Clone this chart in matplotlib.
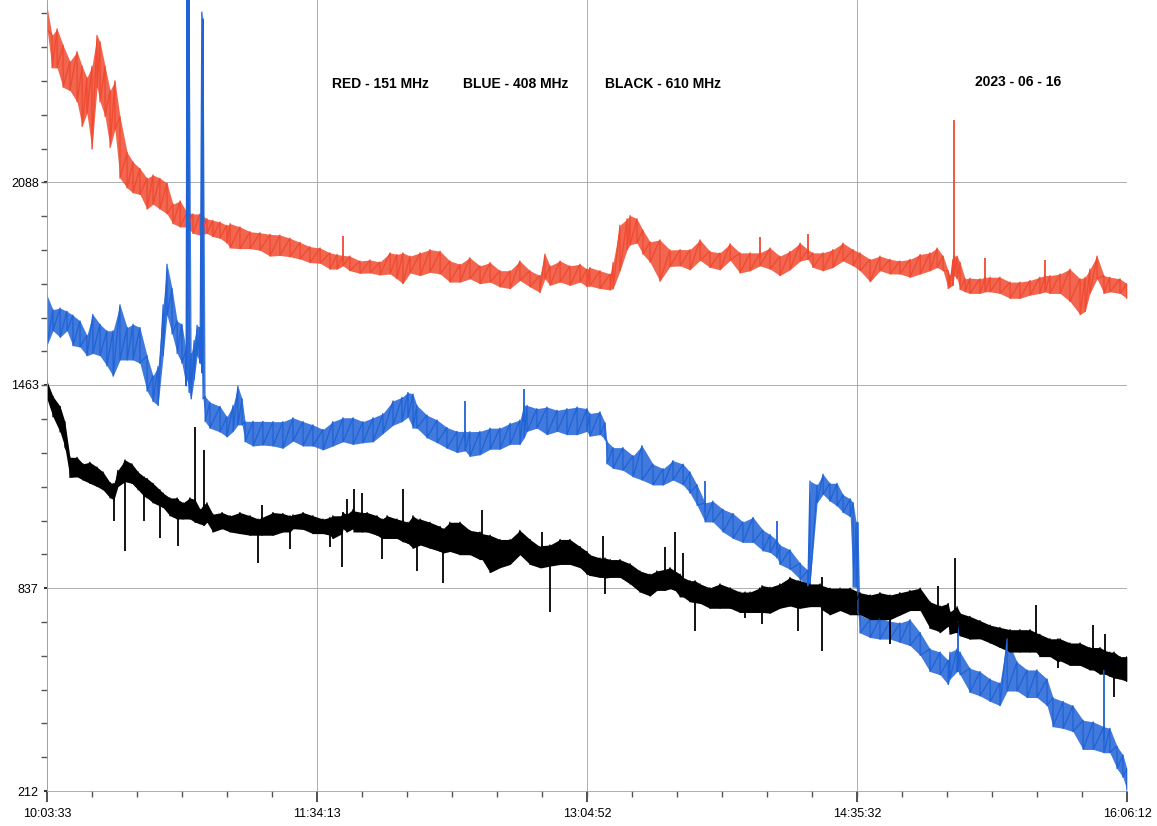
import matplotlib
matplotlib.use('Agg')
from matplotlib import pyplot as plt
from matplotlib.ticker import FixedLocator, AutoMinorLocator
import numpy as np

plt.rcParams['font.family'] = ['Liberation Sans', 'DejaVu Sans']

# axis labels
time_labels = ['10:03:33', '11:34:13', '13:04:52', '14:35:32', '16:06:12']
level_ticks = [212, 837, 1463, 2088]
level_top = 2649

# red - 151 MHz: minutes after 10:03:33, upper and lower edge of the noisy trace
red_t = [0, 1.7, 3.4, 5.4, 7.7, 10.1, 11.8, 13.4, 15.1, 16.8, 17.8, 19.5, 21.2, 22.8, 24.5,
         26.9, 28.9, 31.2, 33.6, 35.6, 37.9, 40.3, 42.3, 44.7, 47.0, 49.0, 51.4, 53.7, 55.7,
         58.1, 60.4, 61.5, 64.8, 68.2, 71.5, 74.9, 78.2, 81.6, 85.0, 88.3, 91.7, 95.0, 97.4,
         99.4, 101.7, 105.1, 108.5, 111.8, 115.2, 117.5, 119.5, 121.9, 125.3, 128.6, 132.0,
         135.3, 138.7, 142.0, 145.4, 148.8, 152.1, 155.5, 158.8, 162.2, 165.5, 167.2, 168.9,
         172.3, 175.6, 179.0, 181.3, 182.3, 185.7, 189.1, 190.1, 192.4, 194.8, 195.8, 198.1,
         200.1, 202.5, 205.8, 209.2, 212.6, 215.9, 219.3, 222.6, 226.0, 229.4, 232.7, 236.1,
         239.4, 242.8, 246.1, 249.5, 252.9, 255.5, 257.2, 260.6, 263.9, 267.3, 270.7, 273.0,
         276.4, 279.7, 283.1, 286.4, 289.8, 293.2, 296.5, 298.9, 300.9, 302.6, 303.2, 304.2,
         304.6, 305.6, 306.6, 308.3, 309.9, 313.3, 315.0, 316.7, 320.0, 323.4, 326.7, 330.1,
         333.4, 335.1, 336.8, 340.2, 343.5, 346.9, 348.6, 350.2, 352.6, 354.9, 356.9, 360.3,
         362.6]
red_hi = [2630, 2540, 2560, 2510, 2460, 2490, 2445, 2410, 2445, 2540, 2520, 2445, 2370, 2400,
          2290, 2180, 2150, 2130, 2100, 2110, 2100, 2085, 2020, 2030, 1995, 1990, 1990, 1975,
          1970, 1965, 1955, 1960, 1950, 1935, 1932, 1927, 1925, 1915, 1902, 1889, 1885, 1870,
          1865, 1862, 1860, 1845, 1848, 1842, 1870, 1865, 1870, 1860, 1870, 1880, 1875, 1845,
          1835, 1855, 1830, 1840, 1815, 1815, 1845, 1815, 1800, 1866, 1830, 1845, 1830, 1835,
          1820, 1825, 1815, 1805, 1840, 1955, 1975, 1985, 1975, 1940, 1904, 1910, 1879, 1880,
          1880, 1910, 1875, 1870, 1898, 1870, 1870, 1870, 1885, 1860, 1875, 1900, 1880, 1870,
          1870, 1880, 1900, 1880, 1870, 1850, 1860, 1850, 1845, 1850, 1865, 1870, 1885, 1860,
          1815, 1800, 1850, 1860, 1860, 1840, 1790, 1792, 1790, 1795, 1795, 1795, 1780, 1780,
          1785, 1795, 1800, 1800, 1805, 1820, 1790, 1795, 1820, 1860, 1800, 1795, 1790, 1775]
red_lo = [2560, 2440, 2440, 2380, 2370, 2335, 2260, 2300, 2190, 2380, 2335, 2290, 2195, 2250,
          2100, 2070, 2055, 2050, 2005, 2020, 2005, 1990, 1960, 1950, 1950, 1930, 1925, 1930,
          1920, 1915, 1900, 1885, 1883, 1883, 1878, 1860, 1862, 1858, 1851, 1840, 1838, 1820,
          1820, 1830, 1815, 1807, 1808, 1802, 1805, 1790, 1775, 1808, 1800, 1810, 1805, 1780,
          1780, 1790, 1775, 1780, 1765, 1760, 1785, 1765, 1748, 1790, 1770, 1780, 1770, 1780,
          1766, 1768, 1760, 1756, 1760, 1815, 1880, 1895, 1900, 1866, 1841, 1783, 1828, 1830,
          1818, 1847, 1825, 1818, 1847, 1808, 1815, 1830, 1820, 1800, 1818, 1845, 1850, 1825,
          1815, 1825, 1845, 1830, 1815, 1781, 1815, 1805, 1805, 1795, 1805, 1815, 1825, 1815,
          1760, 1765, 1770, 1800, 1790, 1757, 1750, 1745, 1745, 1750, 1750, 1745, 1730, 1730,
          1740, 1745, 1750, 1745, 1745, 1720, 1680, 1690, 1745, 1790, 1745, 1750, 1745, 1730]
red_spike_t = [99.4, 239.4, 255.5, 304.6, 315.0, 335.1]
red_spike_v = [1923, 1920, 1928, 2279, 1854, 1847]

# blue - 408 MHz
blue_t = [0, 2.0, 4.4, 6.7, 8.7, 11.1, 13.4, 15.4, 17.8, 20.1, 22.2, 24.5, 26.9, 28.9, 31.2,
          33.6, 35.6, 37.3, 39.0, 40.3, 42.0, 43.7, 45.3, 46.7, 47.0, 47.7, 48.4, 49.4, 50.4,
          51.4, 52.0, 52.4, 53.1, 54.7, 58.1, 60.4, 62.5, 64.1, 65.5, 66.5, 69.2, 72.5, 75.9,
          79.2, 82.6, 86.0, 89.3, 92.7, 96.0, 99.4, 102.8, 106.1, 109.5, 112.8, 116.2, 119.2,
          121.2, 122.9, 124.2, 127.6, 131.0, 134.3, 137.7, 140.4, 142.0, 145.4, 148.8, 152.1,
          155.5, 158.8, 160.2, 161.2, 164.5, 167.9, 171.3, 174.6, 178.0, 181.3, 182.3, 185.7,
          187.4, 188.0, 190.1, 193.4, 196.8, 199.8, 203.5, 206.9, 210.2, 213.6, 215.9, 218.3,
          221.0, 223.6, 227.0, 230.4, 233.7, 237.1, 240.4, 242.8, 245.1, 246.1, 249.5, 252.9,
          255.5, 256.2, 258.6, 260.6, 262.9, 265.3, 267.3, 269.7, 270.7, 271.7, 272.3, 273.0,
          276.4, 279.7, 283.1, 286.4, 289.8, 293.2, 296.5, 299.9, 302.6, 303.2, 305.6, 305.9,
          306.6, 309.9, 313.3, 316.7, 320.0, 322.4, 325.7, 329.1, 332.4, 335.8, 337.8, 341.2,
          344.5, 347.9, 351.3, 354.9, 356.9, 359.3, 361.3, 362.6]
blue_hi = [1740, 1695, 1700, 1690, 1678, 1660, 1616, 1680, 1650, 1630, 1630, 1710, 1640, 1650,
           1640, 1553, 1491, 1520, 1710, 1835, 1760, 1660, 1650, 1570, 2700, 2700, 1560, 1600,
           1647, 1640, 2612, 2590, 1428, 1410, 1397, 1365, 1400, 1459, 1420, 1351, 1351, 1351,
           1350, 1350, 1362, 1350, 1340, 1326, 1350, 1362, 1362, 1350, 1362, 1375, 1414, 1425,
           1440, 1435, 1400, 1370, 1355, 1332, 1320, 1320, 1319, 1320, 1330, 1330, 1345, 1355,
           1400, 1400, 1390, 1395, 1385, 1390, 1395, 1390, 1375, 1380, 1346, 1290, 1270, 1270,
           1245, 1276, 1219, 1205, 1230, 1219, 1195, 1155, 1100, 1105, 1080, 1067, 1041, 1055,
           1016, 1002, 985, 970, 955, 914, 892, 1167, 1155, 1188, 1160, 1160, 1125, 1112, 1100,
           1040, 1040, 754, 740, 745, 735, 730, 740, 700, 650, 640, 615, 640, 650, 645, 640, 590,
           580, 557, 545, 681, 610, 585, 585, 557, 500, 488, 475, 430, 425, 410, 405, 350, 323,
           281]
blue_lo = [1585, 1630, 1610, 1630, 1584, 1580, 1553, 1560, 1553, 1522, 1490, 1540, 1540, 1540,
           1530, 1444, 1412, 1400, 1553, 1678, 1620, 1560, 1530, 1460, 1480, 1440, 1420, 1480,
           1553, 1530, 1500, 1420, 1350, 1330, 1318, 1303, 1320, 1340, 1340, 1288, 1275, 1278,
           1275, 1268, 1290, 1275, 1275, 1263, 1275, 1288, 1280, 1285, 1288, 1313, 1339, 1350,
           1364, 1330, 1330, 1300, 1285, 1268, 1255, 1260, 1243, 1248, 1265, 1265, 1280, 1280,
           1300, 1320, 1330, 1310, 1320, 1310, 1310, 1320, 1305, 1310, 1295, 1220, 1206, 1200,
           1180, 1170, 1155, 1155, 1170, 1155, 1130, 1092, 1041, 1041, 1010, 990, 978, 978, 952,
           947, 930, 910, 895, 864, 844, 850, 1100, 1126, 1105, 1090, 1070, 1057, 840, 840, 760,
           699, 685, 680, 680, 670, 660, 630, 580, 570, 540, 557, 580, 580, 570, 516, 505, 488,
           475, 520, 520, 500, 500, 475, 410, 405, 395, 340, 340, 330, 330, 281, 254, 215]
blue_spike_t = [140.4, 160.2, 221.0, 245.1, 305.9, 354.9]
blue_spike_v = [1415, 1450, 1168, 1043, 737, 585]

# black - 610 MHz
black_t = [0, 2.0, 4.4, 6.0, 7.7, 10.1, 12.1, 14.4, 16.8, 18.8, 21.2, 22.5, 23.8, 26.2, 28.5,
           30.6, 32.6, 33.6, 35.6, 37.9, 39.0, 41.3, 43.7, 44.0, 45.7, 48.0, 49.7, 51.4, 52.7,
           53.7, 55.7, 58.8, 61.5, 64.8, 68.2, 70.9, 72.2, 75.9, 79.2, 81.6, 82.6, 86.0, 89.3,
           92.7, 95.0, 96.0, 99.1, 99.4, 100.7, 102.8, 103.1, 105.8, 107.5, 110.8, 112.5, 114.2,
           117.5, 119.5, 121.2, 122.9, 124.2, 125.3, 128.6, 132.0, 133.0, 135.3, 138.7, 142.0,
           145.4, 146.1, 148.8, 152.1, 155.5, 158.8, 162.2, 165.5, 166.2, 168.9, 172.3, 175.6,
           179.0, 181.3, 182.3, 185.7, 186.7, 187.4, 189.1, 192.4, 195.8, 199.1, 202.5, 204.8,
           207.5, 209.2, 210.9, 212.6, 213.6, 215.9, 217.6, 219.3, 222.6, 226.0, 229.4, 232.7,
           234.4, 236.1, 239.4, 240.1, 242.8, 246.1, 249.5, 252.2, 252.9, 256.2, 259.6, 260.3,
           262.9, 266.3, 269.7, 273.0, 276.4, 279.7, 283.1, 286.4, 289.8, 293.2, 296.5, 299.2,
           299.9, 302.6, 303.2, 304.9, 305.6, 306.6, 309.9, 313.3, 316.7, 320.0, 323.4, 326.7,
           330.1, 332.1, 333.4, 336.8, 339.5, 340.2, 343.5, 346.9, 350.2, 351.3, 353.6, 355.3,
           356.9, 358.3, 360.3, 362.6]
black_hi = [1475, 1428, 1397, 1350, 1240, 1240, 1220, 1225, 1210, 1195, 1162, 1160, 1200, 1232,
            1220, 1195, 1180, 1175, 1160, 1140, 1130, 1115, 1115, 1110, 1100, 1115, 1110, 1080,
            1095, 1100, 1065, 1070, 1060, 1070, 1060, 1050, 1055, 1070, 1067, 1060, 1063, 1070,
            1060, 1050, 1055, 1060, 1060, 1070, 1065, 1080, 1075, 1070, 1070, 1060, 1050, 1060,
            1050, 1045, 1040, 1060, 1050, 1050, 1040, 1027, 1020, 1040, 1040, 1015, 1010, 1005,
            1000, 987, 987, 1015, 987, 965, 968, 970, 987, 987, 965, 950, 940, 930, 930, 930,
            925, 925, 912, 890, 880, 890, 895, 900, 890, 880, 870, 860, 860, 850, 838, 850, 838,
            825, 825, 825, 838, 845, 840, 850, 870, 860, 860, 850, 850, 845, 837, 837, 837, 823,
            816, 823, 816, 823, 830, 837, 795, 785, 782, 790, 764, 775, 780, 760, 750, 737, 723,
            716, 709, 709, 709, 700, 695, 681, 681, 681, 668, 668, 654, 654, 654, 645, 640, 640,
            626, 626]
black_lo = [1420, 1365, 1318, 1272, 1178, 1180, 1170, 1160, 1150, 1140, 1115, 1110, 1150, 1165,
            1160, 1140, 1120, 1115, 1100, 1090, 1085, 1060, 1050, 1050, 1050, 1050, 1040, 1035,
            1030, 1040, 1010, 1020, 1010, 1005, 1000, 1000, 1000, 1000, 1010, 1010, 1020, 1018,
            1005, 1005, 1000, 990, 1005, 1020, 1010, 1020, 1010, 1010, 1010, 1000, 990, 990, 990,
            980, 975, 960, 965, 970, 960, 950, 945, 950, 940, 940, 925, 925, 885, 900, 910, 940,
            910, 900, 900, 905, 910, 910, 900, 880, 876, 870, 870, 868, 870, 870, 850, 825, 813,
            830, 830, 835, 830, 810, 810, 795, 792, 790, 775, 775, 775, 762, 762, 762, 762, 762,
            760, 775, 782, 775, 775, 780, 780, 770, 755, 768, 755, 755, 740, 740, 740, 754, 768,
            768, 713, 705, 700, 720, 695, 700, 700, 690, 680, 681, 668, 654, 640, 640, 640, 640,
            626, 626, 610, 613, 599, 599, 585, 585, 572, 572, 565, 560, 557, 550]
black_spike_t = [22.5, 26.2, 32.6, 37.9, 44.0, 49.7, 52.7, 70.9, 72.2, 81.6, 95.0, 99.1, 100.7,
                 103.1, 105.8, 112.5, 119.5, 124.2, 133.0, 146.1, 166.2, 168.9, 186.7, 187.4,
                 207.5, 210.9, 213.6, 217.6, 234.4, 240.1, 252.2, 260.3, 260.3, 283.1, 299.2,
                 304.9, 332.1, 339.5, 351.3, 355.3, 358.3]
black_spike_v = [1045, 951, 1045, 990, 967, 1334, 1264, 914, 1092, 959, 965, 902, 1111, 1142,
                 1130, 927, 1142, 891, 853, 1079, 1010, 764, 997, 819, 965, 1009, 945, 705, 746,
                 727, 706, 870, 644, 665, 845, 930, 785, 592, 723, 695, 502]

series = [
    (red_t, red_hi, red_lo, red_spike_t, red_spike_v, '#f04a30', 0.85),
    (blue_t, blue_hi, blue_lo, blue_spike_t, blue_spike_v, '#1f63d6', 0.85),
    (black_t, black_hi, black_lo, black_spike_t, black_spike_v, '#000000', 1.0),
]
headers = ['RED - 151 MHz', 'BLUE - 408 MHz', 'BLACK - 610 MHz']
date_text = '2023 - 06 - 16'


def to_minutes(s):
    h, m, sec = [int(p) for p in s.split(':')]
    return h * 60 + m + sec / 60.0


def main():
    t0 = to_minutes(time_labels[0])
    tick_pos = [to_minutes(s) - t0 for s in time_labels]

    fig = plt.figure(figsize=(11.57, 8.26), dpi=100)
    ax = fig.add_axes([47 / 1157, 35 / 826, 1080 / 1157, 791 / 826])

    for t, hi, lo, st, sv, color, alpha in series:
        t = np.asarray(t, dtype=float)
        hi = np.asarray(hi, dtype=float)
        lo = np.asarray(lo, dtype=float)
        ax.fill_between(t, lo, hi, color=color, alpha=alpha, lw=0)
        # trace drawn as a zigzag between the read upper and lower edges
        xs = np.repeat(t, 2)
        ys = np.column_stack([hi, lo]).ravel()
        ax.plot(xs, ys, color=color, lw=0.9)
        # narrow spikes, starting from the middle of the band
        base = (np.interp(st, t, hi) + np.interp(st, t, lo)) / 2
        ax.vlines(st, base, sv, color=color, lw=1.3)

    ax.set_xlim(tick_pos[0], tick_pos[-1])
    ax.set_ylim(level_ticks[0], level_top)

    ax.xaxis.set_major_locator(FixedLocator(tick_pos))
    ax.set_xticklabels(time_labels)
    ax.xaxis.set_minor_locator(AutoMinorLocator(6))
    ax.yaxis.set_major_locator(FixedLocator(level_ticks))
    ax.set_yticklabels([str(v) for v in level_ticks])
    ax.yaxis.set_minor_locator(AutoMinorLocator(6))

    ax.grid(True, which='major', color='#a0a0a0', lw=0.6)
    ax.set_axisbelow(True)
    for side in ['top', 'right']:
        ax.spines[side].set_visible(False)
    for side in ['left', 'bottom']:
        ax.spines[side].set_color('#a0a0a0')
        ax.spines[side].set_linewidth(0.6)

    ax.tick_params(axis='x', which='major', direction='out', length=8, width=1.2,
                   color='#333333', labelsize=9, pad=4)
    ax.tick_params(axis='x', which='minor', direction='out', length=4, width=1,
                   color='#555555')
    ax.tick_params(axis='y', which='major', direction='out', length=2, width=1.5,
                   color='#333333', labelsize=9, pad=4)
    ax.tick_params(axis='y', which='minor', direction='out', length=4, width=1,
                   color='#555555')

    xs = [332 / 1157, 463 / 1157, 605 / 1157]
    for x, txt in zip(xs, headers):
        fig.text(x, 1 - 84 / 826, txt, fontsize=10, fontweight='bold', va='center')
    fig.text(975 / 1157, 1 - 82 / 826, date_text, fontsize=10, fontweight='bold', va='center')

    fig.savefig('out.png', dpi=100)


if __name__ == '__main__':
    main()
